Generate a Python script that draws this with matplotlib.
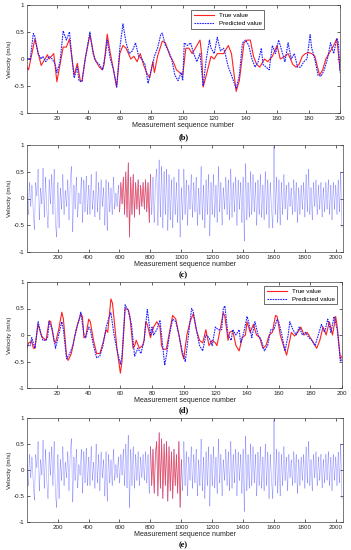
import numpy as np
import matplotlib
matplotlib.use("Agg")
import matplotlib.pyplot as plt
from matplotlib.ticker import FuncFormatter

# ---- panel (b): 200-sample window -----------------------------------------
b_true_x = [1, 2, 6, 10, 14, 15, 18, 20, 24, 26, 28, 31, 33, 35, 36, 38, 41, 44, 47, 49,
            50, 52, 54, 56, 58, 60, 62, 64, 67, 69, 71, 73, 75, 77, 79, 81, 82, 84, 87, 89,
            92, 94, 96, 98, 100, 102, 104, 106, 108, 111, 112, 113, 115, 118, 120, 122, 126,
            129, 131, 134, 136, 139, 141, 143, 145, 147, 149, 152, 154, 157, 160, 162, 165,
            167, 170, 172, 174, 176, 178, 180, 182, 184, 187, 189, 191, 193, 196, 198, 200]
b_true_y = [-0.15, -0.2, 0.37, -0.12, 0.08, 0.0, 0.1, -0.42, 0.22, 0.22, 0.37, -0.3, -0.08,
            -0.42, -0.4, 0.0, 0.45, 0.0, -0.15, -0.2, -0.1, 0.46, 0.1, -0.2, -0.52, 0.1, 0.25,
            0.2, 0.0, 0.05, -0.05, 0.1, -0.1, -0.25, -0.35, -0.05, -0.25, 0.05, 0.33, 0.3,
            0.05, -0.05, -0.2, -0.25, -0.3, 0.2, 0.2, 0.1, 0.2, 0.35, 0.1, -0.52, -0.3, 0.05,
            0.0, 0.1, 0.1, 0.25, 0.1, -0.6, -0.4, 0.3, 0.35, 0.35, 0.05, -0.1, -0.15, 0.0,
            -0.05, 0.05, 0.25, 0.0, 0.05, 0.1, -0.1, -0.15, -0.1, 0.05, 0.1, 0.12, 0.1, 0.05,
            -0.3, -0.2, 0.0, 0.1, 0.25, 0.38, -0.2]
b_pred_x = [1, 2, 3, 5, 6, 8, 10, 11, 13, 15, 17, 19, 20, 22, 24, 26, 28, 30, 31, 33, 34,
            36, 38, 41, 43, 45, 47, 49, 51, 52, 54, 56, 58, 60, 62, 64, 66, 68, 70, 72, 74,
            76, 78, 80, 82, 84, 86, 87, 89, 91, 93, 95, 97, 99, 100, 101, 103, 105, 107, 109,
            111, 113, 115, 117, 118, 120, 122, 124, 126, 127, 129, 131, 134, 136, 138, 140,
            142, 144, 146, 148, 150, 151, 153, 155, 157, 159, 161, 163, 165, 167, 169, 171,
            173, 175, 177, 179, 181, 182, 184, 186, 188, 190, 192, 194, 196, 198, 199, 200]
b_pred_y = [0.0, 0.02, -0.02, 0.47, 0.42, 0.1, 0.0, 0.05, -0.05, 0.05, 0.0, -0.1, -0.25,
            -0.05, 0.52, 0.35, 0.5, -0.1, -0.35, -0.15, -0.4, -0.42, 0.0, 0.5, 0.1, -0.05,
            -0.1, -0.2, 0.1, 0.35, 0.0, -0.2, -0.52, 0.2, 0.65, 0.3, 0.1, 0.15, 0.3, 0.05, 0.0,
            -0.1, -0.45, -0.2, 0.05, 0.2, 0.45, 0.48, 0.25, 0.15, 0.0, -0.3, -0.4, -0.25, -0.4,
            0.3, 0.25, 0.3, 0.1, -0.05, 0.1, -0.5, 0.0, 0.35, 0.2, 0.1, 0.4, 0.15, 0.2, 0.1,
            -0.15, -0.3, -0.55, -0.3, 0.3, 0.35, 0.25, 0.0, -0.15, -0.05, 0.2, -0.1, -0.15,
            -0.2, 0.25, 0.1, 0.35, 0.15, -0.05, 0.3, 0.0, 0.1, -0.15, -0.15, -0.05, 0.0, 0.45,
            0.2, 0.0, -0.3, -0.32, -0.2, 0.0, 0.3, 0.1, 0.38, 0.3, -0.25]

# ---- panel (d): second 200-sample window ---------------------------------
d_true_x = [1, 2, 4, 5, 6, 8, 10, 11, 13, 15, 16, 18, 19, 21, 23, 24, 26, 27, 29, 31, 33,
            35, 36, 37, 38, 40, 41, 43, 45, 47, 49, 51, 52, 54, 55, 57, 58, 60, 61, 63, 65,
            66, 68, 69, 70, 72, 74, 75, 76, 77, 79, 80, 81, 83, 85, 86, 87, 89, 91, 93, 95,
            97, 99, 100, 102, 104, 106, 108, 110, 112, 114, 116, 118, 120, 121, 123, 125,
            126, 128, 129, 131, 133, 135, 137, 139, 140, 142, 144, 146, 148, 150, 152, 154,
            156, 158, 159, 161, 163, 165, 167, 168, 170, 172, 174, 176, 178, 180, 182, 184,
            186, 188, 190, 192, 194, 196, 197, 199, 200]
d_true_y = [-0.25, -0.15, -0.12, -0.25, -0.25, 0.2, 0.0, -0.05, -0.1, 0.27, 0.25, -0.1,
            -0.15, 0.1, 0.43, 0.3, -0.4, -0.48, -0.35, -0.05, 0.2, 0.4, 0.35, -0.05, -0.05,
            0.3, 0.25, -0.1, -0.35, -0.35, -0.15, 0.1, 0.05, 0.68, 0.6, 0.0, -0.3, -0.72,
            -0.5, 0.5, 0.48, 0.35, -0.25, -0.2, -0.1, -0.25, -0.2, -0.1, 0.25, 0.2, -0.05,
            0.05, 0.15, 0.25, 0.15, -0.2, -0.27, -0.27, 0.05, 0.37, 0.3, 0.0, -0.35, -0.45,
            0.0, 0.25, 0.4, 0.1, -0.1, -0.15, 0.1, -0.2, -0.1, -0.15, -0.2, 0.1, 0.42, 0.35,
            -0.1, 0.05, 0.08, -0.2, -0.3, -0.05, 0.0, 0.25, 0.05, 0.2, 0.0, -0.05, -0.25,
            -0.2, 0.0, 0.05, 0.37, 0.35, 0.0, -0.2, -0.38, -0.1, 0.05, -0.02, 0.05, 0.15, 0.0,
            0.05, -0.05, -0.15, -0.25, -0.1, 0.15, 0.0, 0.25, 0.0, 0.35, 0.15, -0.45, -0.4]
d_pred_x = [1, 3, 4, 6, 8, 10, 11, 13, 14, 15, 17, 19, 21, 23, 24, 26, 28, 30, 32, 34, 35,
            37, 38, 40, 41, 43, 45, 47, 49, 51, 53, 54, 56, 58, 60, 61, 63, 65, 67, 68, 69,
            71, 73, 75, 77, 78, 79, 80, 81, 83, 85, 86, 88, 89, 91, 93, 95, 97, 99, 101, 103,
            105, 106, 108, 110, 112, 114, 116, 118, 120, 122, 124, 125, 126, 128, 130, 131,
            133, 135, 136, 138, 140, 141, 143, 145, 147, 149, 151, 153, 155, 157, 159, 160,
            162, 164, 166, 167, 169, 171, 173, 175, 177, 179, 181, 183, 185, 187, 189, 191,
            193, 195, 197, 199, 200]
d_pred_y = [-0.2, -0.2, -0.05, -0.25, 0.25, 0.0, -0.1, -0.1, -0.05, 0.25, 0.1, -0.25, 0.0,
            0.25, 0.1, -0.45, -0.35, -0.2, 0.1, 0.3, 0.43, 0.0, -0.05, 0.15, 0.1, -0.2, -0.43,
            -0.4, -0.2, 0.15, 0.35, 0.42, 0.0, -0.3, -0.55, -0.4, 0.57, 0.45, 0.2, -0.1, -0.4,
            -0.25, -0.35, -0.1, 0.48, 0.25, 0.0, 0.15, 0.0, 0.1, 0.28, 0.0, -0.57, -0.4, 0.0,
            0.3, 0.25, 0.0, -0.3, -0.5, 0.0, 0.5, 0.45, 0.1, -0.2, -0.3, 0.0, -0.05, -0.2,
            0.15, 0.1, 0.1, 0.5, 0.55, 0.0, -0.1, 0.1, 0.0, 0.1, -0.15, 0.05, 0.35, 0.25,
            -0.05, 0.25, 0.0, -0.1, -0.3, -0.2, 0.1, 0.1, 0.3, 0.25, 0.0, -0.3, 0.0, 0.25, 0.1,
            0.0, 0.15, 0.0, 0.05, -0.05, -0.1, -0.2, 0.0, 0.2, 0.05, 0.3, 0.05, 0.35, 0.1,
            -0.5, -0.45]

# ---- panels (c), (e): full 2048-sample record, one value every 8 samples --
full_x = list(range(1, 2049, 8))
full_y = [
    0.1, -0.3, 0.3, -0.15, 0.25, -0.2, -0.58, 0.3, 0.05, 0.55, -0.4, 0.2, -0.1, 0.57, -0.35,
    0.4, -0.2, -0.55, 0.35, -0.1, 0.45, -0.3, 0.55, -0.45, -0.72,
    0.3, -0.55, 0.2, -0.2, 0.45, -0.3, 0.15, -0.15, 0.35, -0.4, 0.3, 0.6, -0.62, 0.25, -0.2,
    0.4, -0.35, 0.1, -0.1, 0.4, -0.45, 0.35, -0.25, 0.42, -0.3,
    0.25, -0.3, 0.45, -0.2, 0.15, -0.35, 0.5, -0.25, 0.3, -0.4, 0.35, -0.15, 0.2, -0.5, 0.35,
    -0.6, 0.3, -0.25, 0.2, -0.3, 0.4, -0.2, 0.1, -0.15, 0.25,
    -0.25, 0.3, -0.1, 0.4, -0.3, 0.5, -0.35, 0.67, -0.72, 0.4, -0.3, 0.45, -0.35, 0.3, -0.2,
    0.35, -0.3, 0.25, -0.15, 0.3, -0.2, 0.35, -0.25, 0.3, -0.45,
    0.45, -0.3, 0.4, -0.45, 0.3, 0.55, -0.5, 0.72, -0.35, 0.6, -0.55, 0.5, -0.3, 0.55, -0.6,
    0.45, -0.4, 0.35, -0.55, 0.4, -0.3, 0.3, -0.45, 0.55, -0.72,
    0.2, -0.4, 0.55, -0.3, 0.35, -0.5, 0.25, -0.2, 0.45, -0.35, 0.3, -0.25, 0.4, -0.5, 0.2,
    -0.3, 0.6, -0.4, 0.25, -0.55, 0.35, -0.3, 0.45, -0.7, 0.3,
    -0.3, 0.45, -0.35, 0.25, -0.45, 0.6, -0.25, 0.3, -0.5, 0.2, -0.2, 0.4, -0.3, 0.35, -0.4,
    0.55, -0.35, 0.3, -0.25, 0.4, -0.5, 0.35, -0.2, 0.3, -0.45,
    0.4, -0.8, 0.65, -0.4, 0.3, -0.35, 0.5, -0.3, 0.45, -0.25, 0.3, -0.5, 0.35, -0.3, 0.45,
    -0.35, 0.25, -0.4, 0.5, -0.3, 0.35, -0.55, 0.3, -0.2, -0.55,
    0.97, -0.3, 0.4, -0.45, 0.35, -0.5, 0.3, -0.3, 0.45, -0.2, 0.25, -0.4, 0.3, -0.15, 0.2,
    -0.3, 0.35, -0.25, 0.3, -0.45, 0.2, -0.3, 0.25, -0.2, 0.3,
    -0.35, 0.45, -0.25, 0.55, -0.3, 0.2, -0.4, 0.3, -0.15, 0.35, -0.3, 0.25, -0.2, 0.3, -0.35,
    0.2, -0.25, 0.3, -0.2, 0.35, -0.3, 0.25, -0.4, 0.3, -0.2,
    0.25, -0.3, 0.35, -0.25, 0.5, -0.55,
]
c_window = (600, 801)
e_window = (800, 1001)

panel_labels = ["(b)", "(c)", "(d)", "(e)"]
legend_labels = ["True value", "Predicted value"]
xlabel = "Measurement sequence number"
ylabel = "Velocity (m/s)"

W, H = 351, 550
fig = plt.figure(figsize=(W / 100, H / 100), dpi=100)
plt.rcParams["font.family"] = ["Liberation Sans", "DejaVu Sans"]

# axes boxes in pixels: left, top, right, bottom
boxes = [(27, 5, 340, 113), (27, 145, 343, 252), (27, 282, 342, 388), (27, 418, 343, 522)]
label_y = [137, 275, 410, 545]


def frac_fmt(v, _):
    if abs(v) < 1e-9:
        return "0"
    return f"{v:g}"


def style_axes(ax, xmax, step):
    ax.set_xlim(1, xmax)
    ax.set_ylim(-1, 1)
    ax.set_xticks(np.arange(step, xmax + 1, step))
    ax.set_yticks([-1, -0.5, 0, 0.5, 1])
    ax.yaxis.set_major_formatter(FuncFormatter(frac_fmt))
    ax.tick_params(direction="in", length=2, width=0.5, labelsize=4.5, pad=2,
                   top=True, right=True, colors="#222222")
    for s in ax.spines.values():
        s.set_linewidth(0.5)
        s.set_color("#444444")
    ax.set_xlabel(xlabel, fontsize=5, labelpad=1, color="#222222")
    ax.set_ylabel(ylabel, fontsize=4.5, labelpad=1, color="#222222")


axes = []
for (l, t, r, b) in boxes:
    ax = fig.add_axes([l / W, 1 - b / H, (r - l) / W, (b - t) / H])
    axes.append(ax)

fx = np.array(full_x)
fy = np.array(full_y)

# (b)
ax = axes[0]
ax.plot(b_true_x, b_true_y, color="#ff2020", lw=0.8, label=legend_labels[0])
ax.plot(b_pred_x, b_pred_y, color="#2020ff", lw=0.8, ls=(0, (1.5, 0.8)), label=legend_labels[1])
style_axes(ax, 200, 20)
ax.legend(loc="upper left", bbox_to_anchor=(0.515, 0.98), fontsize=4.5, frameon=True,
          fancybox=False, edgecolor="#333333", framealpha=1, handlelength=3.2,
          borderpad=0.4, labelspacing=0.4).get_frame().set_linewidth(0.5)

# (c) and (e)
for ax, win in ((axes[1], c_window), (axes[3], e_window)):
    ax.plot(fx, fy, color="#5555ff", lw=0.45, ls=(0, (1, 0.6)), alpha=0.8)
    m = (fx >= win[0]) & (fx <= win[1])
    ax.plot(fx[m], fy[m], color="#ff3030", lw=0.5, alpha=0.8)
    style_axes(ax, 2048, 200)

# (d)
ax = axes[2]
ax.plot(d_true_x, d_true_y, color="#ff2020", lw=0.8, label=legend_labels[0])
ax.plot(d_pred_x, d_pred_y, color="#2020ff", lw=0.8, ls=(0, (1.5, 0.8)), label=legend_labels[1])
style_axes(ax, 200, 20)
ax.legend(loc="upper right", bbox_to_anchor=(0.995, 0.99), fontsize=4.5, frameon=True,
          fancybox=False, edgecolor="#333333", framealpha=1, handlelength=3.2,
          borderpad=0.4, labelspacing=0.4).get_frame().set_linewidth(0.5)

for lab, y in zip(panel_labels, label_y):
    fig.text(0.5 + 8 / W, 1 - y / H, lab, ha="center", va="center", fontsize=6,
             fontweight="bold", family=["Liberation Serif", "DejaVu Serif"])

fig.savefig("out.png", dpi=100, facecolor="white")
